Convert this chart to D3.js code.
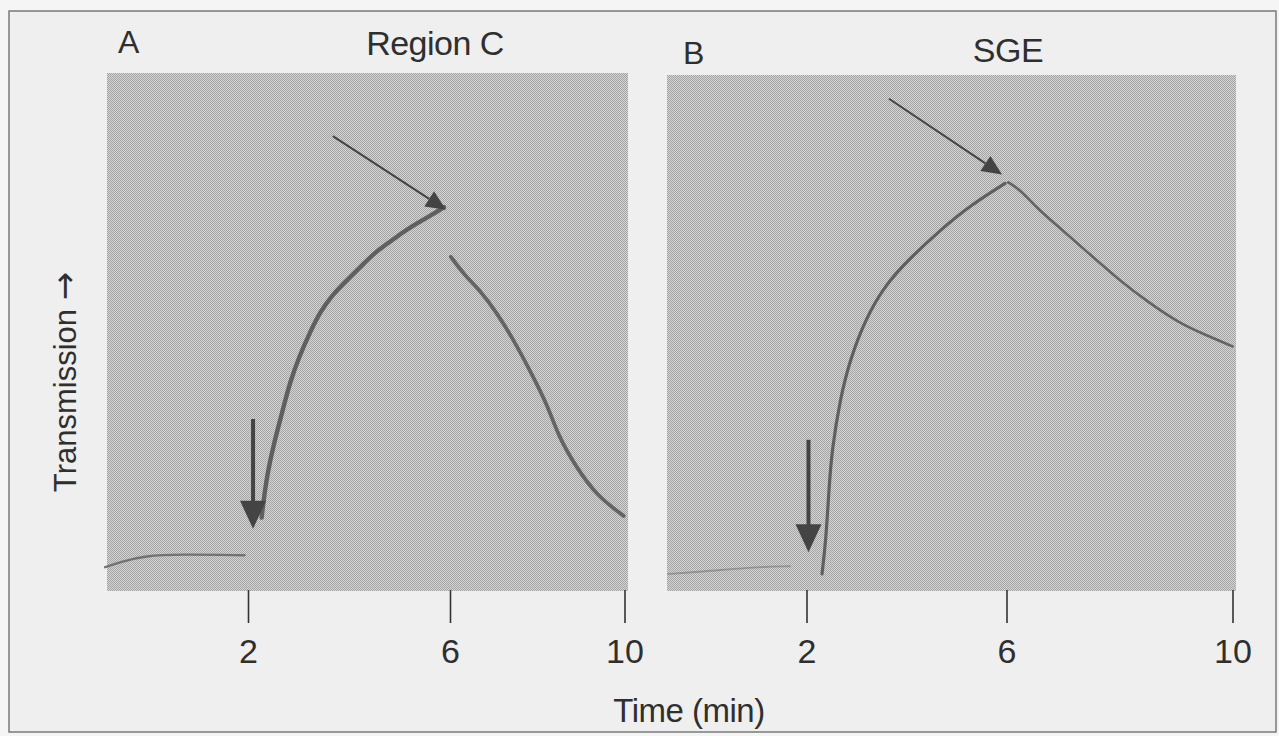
<!DOCTYPE html>
<html>
<head>
<meta charset="utf-8">
<script src="https://cdn.jsdelivr.net/npm/d3@7"></script>
<style>
  html, body { margin: 0; padding: 0; background: #f5f5f5; }
  svg { display: block; }
  text { font-family: "Liberation Sans", Arial, sans-serif; fill: #2f2f2f; }
</style>
</head>
<body>
<svg id="chart" width="1279" height="736"></svg>
<script>
// ---- data: time in minutes, transmission in arbitrary units (0-100) ----
const tickValues = [2, 6, 10];
const panelLetters = ["A", "B"];
const panelTitles = ["Region C", "SGE"];
const xLabel = "Time (min)";
const yLabel = "Transmission";
const yLabelArrow = "\u2192";
const timeStart = -0.8;
const timeEnd = 10;

// Region C trace
const baselineA = [[-0.83, 4.6], [-0.53, 5.6], [-0.04, 6.8], [0.65, 7.1], [1.93, 6.9]];
const riseA = [[2.27, 14.2], [2.36, 21.6], [2.51, 28.4], [2.68, 34.6], [2.83, 40.3], [3.02, 45.4],
  [3.23, 50.0], [3.43, 53.9], [3.68, 57.3], [3.98, 60.2], [4.26, 62.9], [4.52, 65.4], [4.81, 67.4],
  [5.07, 69.3], [5.35, 71.0], [5.62, 72.5], [5.88, 74.1]];
const decayA = [[6.02, 64.5], [6.34, 60.9], [6.66, 58.3], [7.06, 53.9], [7.45, 48.6], [7.85, 42.3],
  [8.24, 35.8], [8.48, 30.0], [8.87, 24.2], [9.36, 18.4], [9.98, 14.5]];

// SGE trace
const baselineB = [[-0.77, 3.3], [-0.13, 3.7], [0.87, 4.6], [1.67, 4.8]];
const riseB = [[2.31, 3.3], [2.39, 10.0], [2.45, 20.0], [2.51, 27.4], [2.67, 37.1], [2.87, 44.8],
  [3.17, 52.5], [3.57, 59.3], [4.07, 64.5], [4.67, 69.9], [5.27, 74.7], [5.97, 79.0]];
const decayB = [[6.03, 79.2], [6.26, 77.6], [6.52, 74.4], [6.93, 70.5], [7.46, 65.4], [8.0, 60.2],
  [8.53, 55.8], [9.06, 51.9], [9.53, 49.6], [10.0, 47.4]];

// annotation arrows: [time, transmission] of tail and tip
const injectionArrows = [[[2.1, 33.2], [2.1, 12.0]], [[2.04, 29.3], [2.04, 7.5]]];
const peakArrows = [[[3.68, 87.8], [5.92, 73.6]], [[3.65, 95.4], [5.91, 80.7]]];

// ---- layout ----
const layout = [
  { tickX: [248, 450, 624.5], top: 73, bottom: 591,
    letter: [118, 53], title: [435, 55], traceWidth: 4.4 },
  { tickX: [806.5, 1006.5, 1232.5], top: 75, bottom: 591,
    letter: [683, 64], title: [1008, 62], traceWidth: 3.2 }
];
const traces = [
  { base: baselineA, rise: riseA, decay: decayA },
  { base: baselineB, rise: riseB, decay: decayB }
];

const svg = d3.select("#chart");
const defs = svg.append("defs");

// halftone screen used for the chart-paper background
const pat = defs.append("pattern")
  .attr("id", "halftone").attr("patternUnits", "userSpaceOnUse")
  .attr("width", 2).attr("height", 2);
pat.append("rect").attr("width", 2).attr("height", 2).attr("fill", "#d4d4d4");
pat.append("rect").attr("x", 0).attr("y", 0).attr("width", 1).attr("height", 1).attr("fill", "#a4a4a4");
pat.append("rect").attr("x", 1).attr("y", 1).attr("width", 1).attr("height", 1).attr("fill", "#a4a4a4");

defs.append("filter").attr("id", "soft")
  .append("feGaussianBlur").attr("stdDeviation", 0.6);

// page frame
svg.append("rect").attr("x", 9).attr("y", 11).attr("width", 1267).attr("height", 721)
  .attr("fill", "#efefef").attr("stroke", "#7a7a7a").attr("stroke-width", 1.5);

const y = d3.scaleLinear().domain([0, 100]);

layout.forEach((L, i) => {
  const x = d3.scaleLinear().domain(tickValues).range(L.tickX);
  const yS = y.copy().range([L.bottom, L.top]);
  const g = svg.append("g");

  // chart paper
  g.append("rect")
    .attr("x", x(timeStart)).attr("y", L.top)
    .attr("width", x(timeEnd) - x(timeStart) + 3).attr("height", L.bottom - L.top)
    .attr("fill", "url(#halftone)").attr("shape-rendering", "crispEdges");

  // time axis (ticks hang below the paper)
  const axis = d3.axisBottom(x).tickValues(tickValues).tickSize(33).tickPadding(16)
    .tickFormat(d3.format("d"));
  const ax = g.append("g").attr("transform", `translate(0,${L.bottom - 1})`).call(axis);
  ax.select(".domain").remove();
  ax.selectAll(".tick line").attr("stroke", "#333").attr("stroke-width", 1.6);
  ax.selectAll(".tick text").attr("fill", "#2f2f2f").style("font-size", "34px")
    .style("font-family", '"Liberation Sans", Arial, sans-serif');

  // recorder trace
  const line = d3.line().x(d => x(d[0])).y(d => yS(d[1])).curve(d3.curveBasis);
  const T = traces[i];
  const tg = g.append("g").attr("filter", "url(#soft)").attr("fill", "none")
    .attr("stroke-linecap", "round").attr("stroke-linejoin", "round");
  tg.append("path").attr("d", line(T.base)).attr("stroke", "#6a6a6a")
    .attr("stroke-width", i === 0 ? 2.4 : 1.8).attr("stroke-opacity", i === 0 ? 0.9 : 0.5);
  tg.append("path").attr("d", line(T.rise)).attr("stroke", "#555")
    .attr("stroke-width", L.traceWidth).attr("stroke-opacity", 0.9);
  tg.append("path").attr("d", line(T.decay)).attr("stroke", "#555")
    .attr("stroke-width", L.traceWidth - 0.6).attr("stroke-opacity", 0.85);

  // injection arrow (thick, pointing down)
  const [ia, ib] = injectionArrows[i];
  const ix = x(ia[0]), iy0 = yS(ia[1]), iy1 = yS(ib[1]);
  const headLen = 28, headHalf = 13;
  g.append("line").attr("x1", ix).attr("x2", ix).attr("y1", iy0).attr("y2", iy1 - headLen + 2)
    .attr("stroke", "#444").attr("stroke-width", 4);
  g.append("path")
    .attr("d", `M${ix - headHalf},${iy1 - headLen} L${ix + headHalf},${iy1 - headLen} L${ix},${iy1} Z`)
    .attr("fill", "#444");

  // peak arrow (thin, diagonal)
  const [pa, pb] = peakArrows[i];
  const x0 = x(pa[0]), y0 = yS(pa[1]), x1 = x(pb[0]), y1 = yS(pb[1]);
  const ang = Math.atan2(y1 - y0, x1 - x0);
  const hl = 20, hw = 9;
  const bx = x1 - hl * Math.cos(ang), by = y1 - hl * Math.sin(ang);
  g.append("line").attr("x1", x0).attr("y1", y0).attr("x2", bx).attr("y2", by)
    .attr("stroke", "#444").attr("stroke-width", 2);
  g.append("path")
    .attr("d", `M${x1},${y1} L${bx - hw * Math.sin(ang)},${by + hw * Math.cos(ang)} L${bx + hw * Math.sin(ang)},${by - hw * Math.cos(ang)} Z`)
    .attr("fill", "#444");

  // panel letter and title
  svg.append("text").attr("x", L.letter[0]).attr("y", L.letter[1])
    .style("font-size", "32px").text(panelLetters[i]);
  svg.append("text").attr("x", L.title[0]).attr("y", L.title[1])
    .attr("text-anchor", "middle").style("font-size", "34px")
    .style("letter-spacing", "-0.5px").text(panelTitles[i]);
});

// shared axis titles
svg.append("text").attr("x", 689).attr("y", 722).attr("text-anchor", "middle")
  .style("font-size", "33px").style("letter-spacing", "-0.5px").text(xLabel);
const yl = svg.append("text").attr("transform", "translate(76,382) rotate(-90)")
  .attr("text-anchor", "middle").style("font-size", "31px");
yl.append("tspan").text(yLabel + " ");
yl.append("tspan").style("font-family", '"DejaVu Sans", sans-serif')
  .style("font-size", "34px").attr("fill", "#2f2f2f").text(yLabelArrow);
</script>
</body>
</html>
